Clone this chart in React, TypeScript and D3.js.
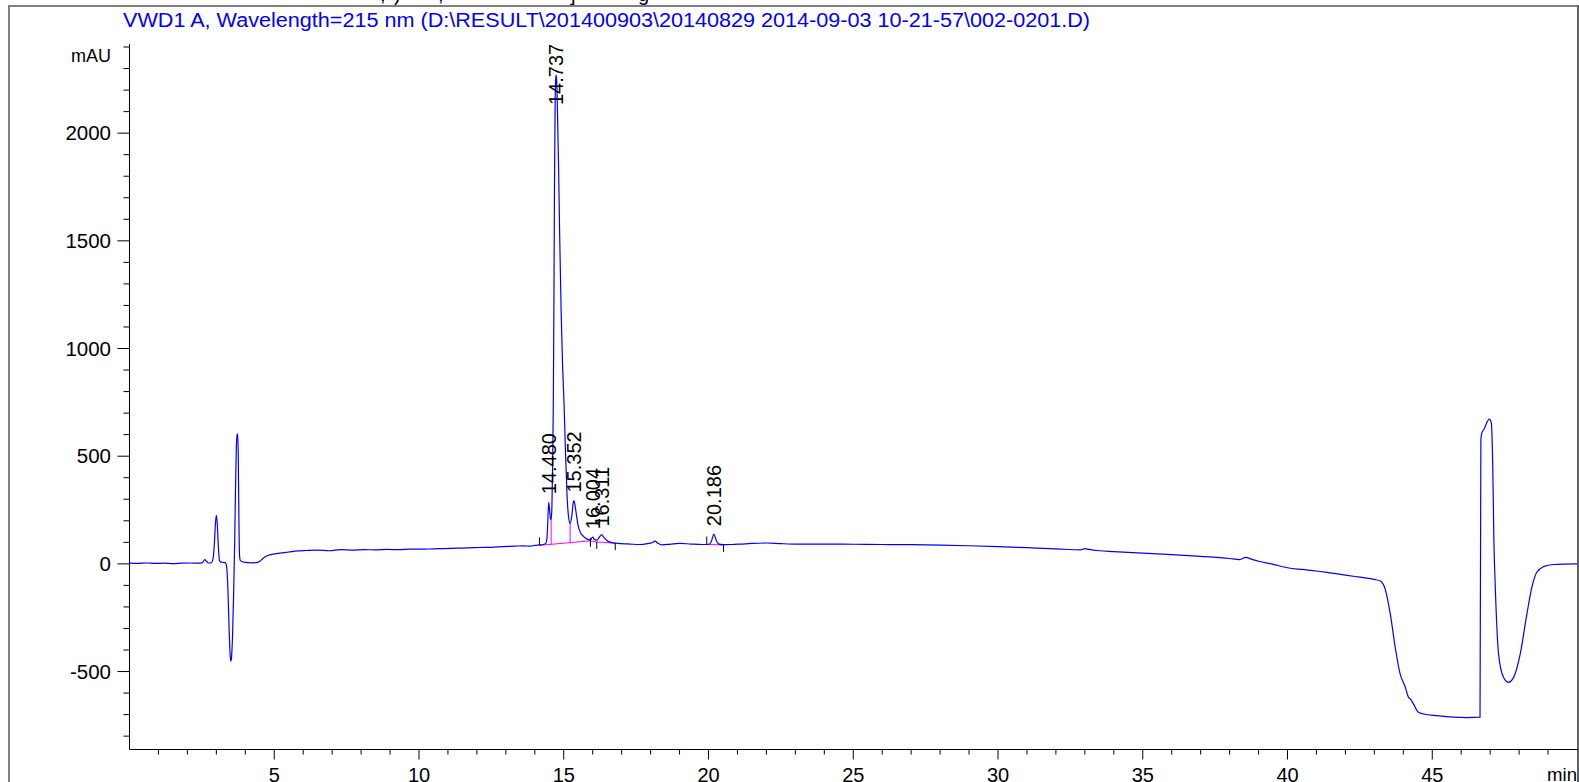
import React from "react";
import * as d3 from "d3";

const W = 1579;
const H = 782;

// ---- data (time in min, absorbance in mAU) ----
const signalInjection: [number, number][] = [
  [0, 3], [0.3, 2], [0.6, 4], [0.9, 2], [1.2, 3], [1.5, 1], [1.8, 3], [2.1, 4], [2.4, 3],
  [2.52, 6], [2.6, 20], [2.66, 12], [2.72, 4], [2.82, 5], [2.88, 20], [2.93, 90], [2.97, 190],
  [3.0, 225], [3.03, 190], [3.07, 80], [3.11, 15], [3.16, 8], [3.25, 7], [3.32, 4], [3.36, -20],
  [3.4, -120], [3.44, -300], [3.48, -430], [3.5, -452], [3.52, -440], [3.56, -330], [3.6, -120],
  [3.63, 80], [3.66, 330], [3.69, 540], [3.72, 600], [3.735, 604], [3.755, 520], [3.78, 200],
  [3.8, 40], [3.83, 15], [3.9, 10], [4.0, 7], [4.2, 5], [4.4, 6], [4.5, 12], [4.6, 24], [4.7, 34],
  [4.8, 40], [4.95, 45], [5.2, 50], [5.5, 55], [5.8, 60],
];
const signalEarly: [number, number][] = [
  [6.1, 62], [6.5, 64], [6.9, 61], [7.3, 66], [7.7, 64], [8.1, 66], [8.5, 65], [8.9, 67], [9.3, 66],
  [9.7, 68], [10.1, 68], [10.5, 70], [10.9, 71], [11.3, 73], [11.7, 74], [12.1, 76], [12.5, 77],
  [12.9, 80], [13.3, 82], [13.6, 84], [13.85, 82], [14.0, 86], [14.16, 88], [14.3, 90],
];
const signalPeaks: [number, number][] = [
  [14.38, 95], [14.42, 120], [14.45, 200], [14.48, 286], [14.51, 250], [14.54, 210], [14.565, 205],
  [14.59, 260], [14.615, 450], [14.64, 750], [14.66, 1200], [14.68, 1750], [14.7, 2100], [14.72, 2245],
  [14.737, 2270], [14.755, 2245], [14.78, 2120], [14.82, 1850], [14.86, 1520], [14.91, 1170],
  [14.96, 920], [15.01, 745], [15.06, 520], [15.11, 330], [15.16, 225], [15.22, 188], [15.28, 225],
  [15.33, 285], [15.352, 294], [15.39, 272], [15.44, 225], [15.5, 175], [15.58, 145], [15.68, 128],
  [15.8, 116], [15.92, 110], [15.98, 122], [16.004, 124], [16.05, 114], [16.14, 110], [16.24, 126],
  [16.311, 136], [16.38, 124], [16.48, 110], [16.6, 101], [16.8, 96], [17.0, 94], [17.3, 92],
  [17.6, 90], [17.9, 94], [18.05, 98], [18.15, 106], [18.25, 96], [18.4, 88], [18.7, 92], [19.0, 95],
  [19.4, 92], [19.8, 90], [20.02, 91], [20.1, 105], [20.186, 138], [20.26, 112], [20.34, 93],
  [20.5, 89], [20.8, 90], [21.1, 92],
];
const signalLate: [number, number][] = [
  [21.5, 95], [22, 97], [22.5, 94], [23, 92], [24, 92], [25, 91], [26, 90], [27, 89], [28, 87],
  [29, 84], [30, 80], [31, 75], [32, 70], [32.85, 65], [33.0, 71], [33.15, 67], [33.5, 61], [34, 57],
  [35, 50], [36, 43], [37, 35], [38, 25], [38.35, 20], [38.55, 30], [38.75, 22], [39, 12],
  [39.5, -2], [40, -18], [40.5, -26], [41, -33], [41.47, -42], [42, -52], [42.5, -62], [43.0, -72],
  [43.21, -80],
];
const signalWash: [number, number][] = [
  [43.37, -116], [43.55, -232], [43.72, -387], [43.89, -511], [44.07, -573], [44.18, -620],
  [44.24, -627], [44.35, -650], [44.52, -689], [44.7, -697], [45.16, -705], [45.73, -712],
  [46.2, -714], [46.65, -712], [46.68, 580], [46.72, 611], [46.79, 625], [46.89, 658], [46.97, 672],
  [47.04, 655], [47.09, 450], [47.13, 100], [47.17, -78], [47.29, -418], [47.46, -527],
  [47.63, -550], [47.81, -527], [48.04, -418], [48.27, -232], [48.44, -109], [48.61, -39],
  [48.84, -13], [49.19, -3], [50, 0],
];

const peakTimes = [14.48, 14.737, 15.352, 16.004, 16.311, 20.186];
const peakLabels = ["14.480", "14.737", "15.352", "16.004", "16.311", "20.186"];
const peakApex = [286, 2270, 294, 124, 136, 138];

// integration baselines [t0, v0, t1, v1]
const baselineSegs: [number, number, number, number][] = [
  [14.16, 86, 15.92, 107],
  [15.92, 107, 16.14, 102],
  [16.14, 102, 16.78, 96],
  [19.94, 90, 20.52, 88],
];
// drop lines [t, baseline value, curve value]
const dropLines: [number, number, number][] = [
  [14.565, 91, 205],
  [15.22, 100, 188],
];
// peak start/end markers [t, value, kind]
const markers: [number, number, string][] = [
  [14.16, 86, "up"],
  [15.92, 107, "both"],
  [16.14, 102, "down"],
  [16.78, 96, "down"],
  [19.94, 90, "up"],
  [20.52, 88, "down"],
];

const xMajorTicks = [5, 10, 15, 20, 25, 30, 35, 40, 45];
const yMajorTicks = [-500, 0, 500, 1000, 1500, 2000];

const title =
  "VWD1 A, Wavelength=215 nm (D:\\RESULT\\201400903\\20140829 2014-09-03 10-21-57\\002-0201.D)";

const FONT = "'Liberation Sans', Arial, sans-serif";

export default function App() {
  const left = 129.5;
  const right = 1577;
  const top = 44;
  const bottom = 749.5;

  const x = d3.scaleLinear().domain([0, 50]).range([left, right]);
  const y = d3.scaleLinear().domain([-862, 2414]).range([bottom, top]);

  const data = [...signalInjection, ...signalEarly, ...signalPeaks, ...signalLate, ...signalWash];
  const line = d3
    .line<[number, number]>()
    .x((d) => x(d[0]))
    .y((d) => y(d[1]))
    .curve(d3.curveMonotoneX);

  const xMinor = d3.range(1, 50).filter((t) => t % 5 !== 0);
  const yMinor = d3.range(-800, 2401, 100).filter((v) => v % 500 !== 0);

  return (
    <svg
      width={W}
      height={H}
      style={{ position: "absolute", left: 0, top: 0, display: "block", background: "#fff" }}
      fontFamily={FONT}
    >
      {/* clipped text fragments above the frame */}
      <g fontSize={20} fill="#000">
        <text x={380} y={1}>,</text>
        <text x={394} y={1}>)</text>
        <text x={438} y={1}>,</text>
        <text x={570} y={1}>]</text>
        <text x={638} y={1}>g</text>
      </g>

      {/* frame */}
      <line x1={9} y1={6} x2={1579} y2={6} stroke="#808080" strokeWidth={2} />
      <line x1={9} y1={5} x2={9} y2={782} stroke="#808080" strokeWidth={2} />
      <line x1={1578} y1={5} x2={1578} y2={782} stroke="#606060" strokeWidth={2} />

      {/* title */}
      <text x={123} y={26.5} fontSize={20} fill="#0000ff" textLength={967} lengthAdjust="spacingAndGlyphs">
        {title}
      </text>

      {/* axes */}
      <line x1={left} y1={top} x2={left} y2={bottom} stroke="#000" strokeWidth={1} />
      <line x1={left} y1={bottom} x2={1578} y2={bottom} stroke="#000" strokeWidth={1} />

      {yMinor.map((v) => (
        <line key={"ym" + v} x1={left - 6} x2={left} y1={y(v)} y2={y(v)} stroke="#000" strokeWidth={1} />
      ))}
      {yMajorTicks.map((v) => (
        <g key={"yM" + v}>
          <line x1={left - 12} x2={left} y1={y(v)} y2={y(v)} stroke="#000" strokeWidth={1} />
          <text x={111} y={y(v) + 7.3} fontSize={20.5} textAnchor="end" fill="#000">
            {v}
          </text>
        </g>
      ))}
      <text x={111} y={61.5} fontSize={18} textAnchor="end" fill="#000">
        mAU
      </text>

      {xMinor.map((t) => (
        <line key={"xm" + t} x1={x(t)} x2={x(t)} y1={bottom} y2={bottom + 5} stroke="#000" strokeWidth={1} />
      ))}
      {xMajorTicks.map((t) => (
        <g key={"xM" + t}>
          <line x1={x(t)} x2={x(t)} y1={bottom} y2={bottom + 10} stroke="#000" strokeWidth={1} />
          <text x={x(t)} y={781.5} fontSize={20} textAnchor="middle" fill="#000">
            {t}
          </text>
        </g>
      ))}
      <text x={1577} y={780.5} fontSize={18.6} textAnchor="end" fill="#000">
        min
      </text>

      {/* integration baselines */}
      {baselineSegs.map((s, i) => (
        <line key={"bs" + i} x1={x(s[0])} y1={y(s[1])} x2={x(s[2])} y2={y(s[3])} stroke="#ff00ff" strokeWidth={1} />
      ))}
      {dropLines.map((d, i) => (
        <line key={"dl" + i} x1={x(d[0])} y1={y(d[1])} x2={x(d[0])} y2={y(d[2])} stroke="#ff00ff" strokeWidth={1} />
      ))}

      {/* chromatogram */}
      <path d={line(data) || ""} fill="none" stroke="#0000ff" strokeWidth={1.2} />

      {/* markers */}
      {markers.map((m, i) => {
        const yy = y(m[1]);
        const y1 = m[2] === "up" ? yy - 8 : m[2] === "both" ? yy - 3 : yy;
        const y2 = m[2] === "up" ? yy : m[2] === "both" ? yy + 6 : yy + 7;
        return <line key={"mk" + i} x1={x(m[0])} x2={x(m[0])} y1={y1} y2={y2} stroke="#000" strokeWidth={1} />;
      })}

      {/* peak labels */}
      {peakTimes.map((t, i) => {
        const yb = Math.max(y(peakApex[i]) - 8, 43 + 62);
        return (
          <text
            key={"pl" + i}
            transform={`translate(${x(t)},${yb}) rotate(-90)`}
            dy="0.36em"
            fontSize={20}
            fill="#000"
          >
            {peakLabels[i]}
          </text>
        );
      })}
    </svg>
  );
}
